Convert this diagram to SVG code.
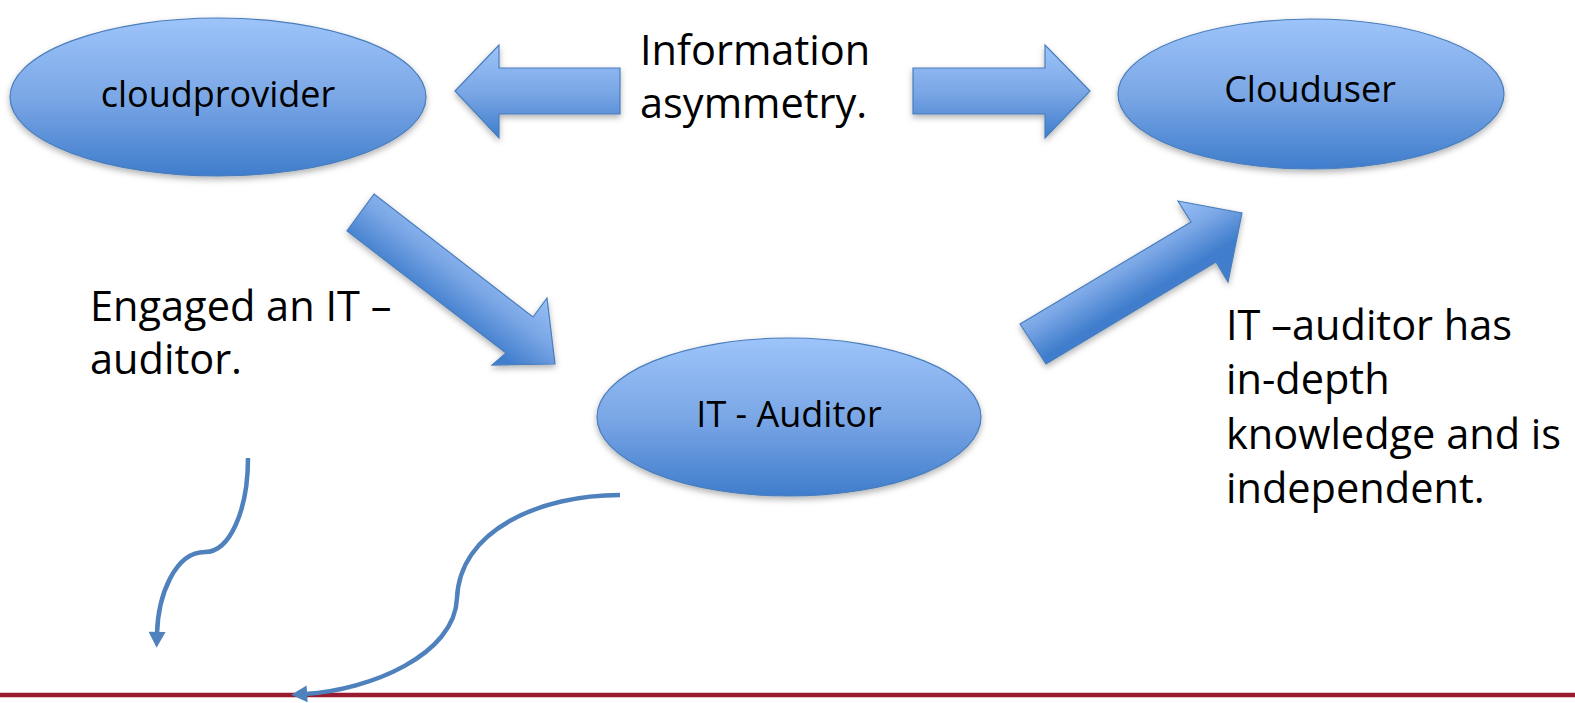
<svg xmlns="http://www.w3.org/2000/svg" width="1575" height="703" viewBox="0 0 1575 703">
  <style>
    .node { stroke: #4a7ebb; stroke-width: 1.2; filter: url(#shadow); }
    .nodetext { font-family: "Open Sans", "Liberation Sans", sans-serif; font-size: 36px; fill: #000; text-anchor: middle; }
    .label { font-family: "Open Sans", "Liberation Sans", sans-serif; font-size: 41.5px; fill: #000; }
    .block { stroke: #4a7ebb; stroke-width: 1.2; filter: url(#shadow); }
    .curve { fill: none; stroke: #4f81bd; stroke-width: 4.5; marker-end: url(#head); }
  </style>
  <defs>
    <linearGradient id="gEll" x1="0" y1="0" x2="0" y2="1">
      <stop offset="0" stop-color="#9dc4fa"/>
      <stop offset="0.5" stop-color="#7ba7e6"/>
      <stop offset="1" stop-color="#3f7dcc"/>
    </linearGradient>
    <linearGradient id="gH" gradientUnits="userSpaceOnUse" x1="0" y1="45" x2="0" y2="138">
      <stop offset="0" stop-color="#9dc4fa"/>
      <stop offset="0.5" stop-color="#7ba7e6"/>
      <stop offset="1" stop-color="#3f7dcc"/>
    </linearGradient>
    <linearGradient id="gD1" gradientUnits="userSpaceOnUse" x1="430" y1="200" x2="380" y2="265">
      <stop offset="0" stop-color="#9dc4fa"/>
      <stop offset="0.5" stop-color="#7ba7e6"/>
      <stop offset="1" stop-color="#3f7dcc"/>
    </linearGradient>
    <linearGradient id="gD2" gradientUnits="userSpaceOnUse" x1="1100" y1="245" x2="1135" y2="302">
      <stop offset="0" stop-color="#9dc4fa"/>
      <stop offset="0.5" stop-color="#7ba7e6"/>
      <stop offset="1" stop-color="#3f7dcc"/>
    </linearGradient>
    <filter id="shadow" x="-10%" y="-10%" width="120%" height="130%">
      <feDropShadow dx="0" dy="3" stdDeviation="3" flood-color="#000" flood-opacity="0.3"/>
    </filter>
    <marker id="head" markerUnits="userSpaceOnUse" markerWidth="17" markerHeight="17" viewBox="0 0 15 16" refX="2" refY="8" orient="auto">
      <path d="M0,0 L15,8 L0,16 Z" fill="#4f81bd"/>
    </marker>
  </defs>

  <rect x="0" y="0" width="1575" height="703" fill="#ffffff"/>

  <line x1="0" y1="695" x2="1575" y2="695" stroke="#981b2f" stroke-width="4.5"/>

  <g id="connectors">
    <polygon class="block" fill="url(#gH)" points="455,91 499,45 499,68 620,68 620,114 499,114 499,138"/>
    <polygon class="block" fill="url(#gH)" points="1090,91 1045,45 1045,68 913,68 913,114 1045,114 1045,138"/>
    <polygon class="block" fill="url(#gD1)" points="374,194 533,317 547,298 555,364 492,365 506,353 347,231"/>
    <polygon class="block" fill="url(#gD2)" points="1020,324 1191,222 1178,201 1242,213 1228,282 1216,262 1046,364"/>
    <path class="curve" d="M 248 458 C 248 510, 230 552, 205 552 C 175 552, 158 595, 157 634"/>
    <path class="curve" d="M 620 495 C 540 495, 460 530, 457 598 C 455 655, 370 690, 305 694"/>
  </g>

  <g id="node-cloudprovider">
    <ellipse class="node" cx="218" cy="97" rx="208" ry="79" fill="url(#gEll)"/>
    <text class="nodetext" x="218" y="107">cloudprovider</text>
  </g>
  <g id="node-clouduser">
    <ellipse class="node" cx="1311" cy="94" rx="193" ry="75" fill="url(#gEll)"/>
    <text class="nodetext" x="1310" y="102">Clouduser</text>
  </g>
  <g id="node-itauditor">
    <ellipse class="node" cx="789" cy="417" rx="192" ry="79" fill="url(#gEll)"/>
    <text class="nodetext" x="789" y="427">IT - Auditor</text>
  </g>

  <g id="label-info">
    <text class="label" x="640" y="65">Information</text>
    <text class="label" x="640" y="118">asymmetry.</text>
  </g>
  <g id="label-engaged">
    <text class="label" x="90" y="321">Engaged an IT –</text>
    <text class="label" x="90" y="374">auditor.</text>
  </g>
  <g id="label-knowledge">
    <text class="label" x="1226" y="340">IT –auditor has</text>
    <text class="label" x="1226" y="394">in-depth</text>
    <text class="label" x="1226" y="449">knowledge and is</text>
    <text class="label" x="1226" y="503">independent.</text>
  </g>
</svg>
